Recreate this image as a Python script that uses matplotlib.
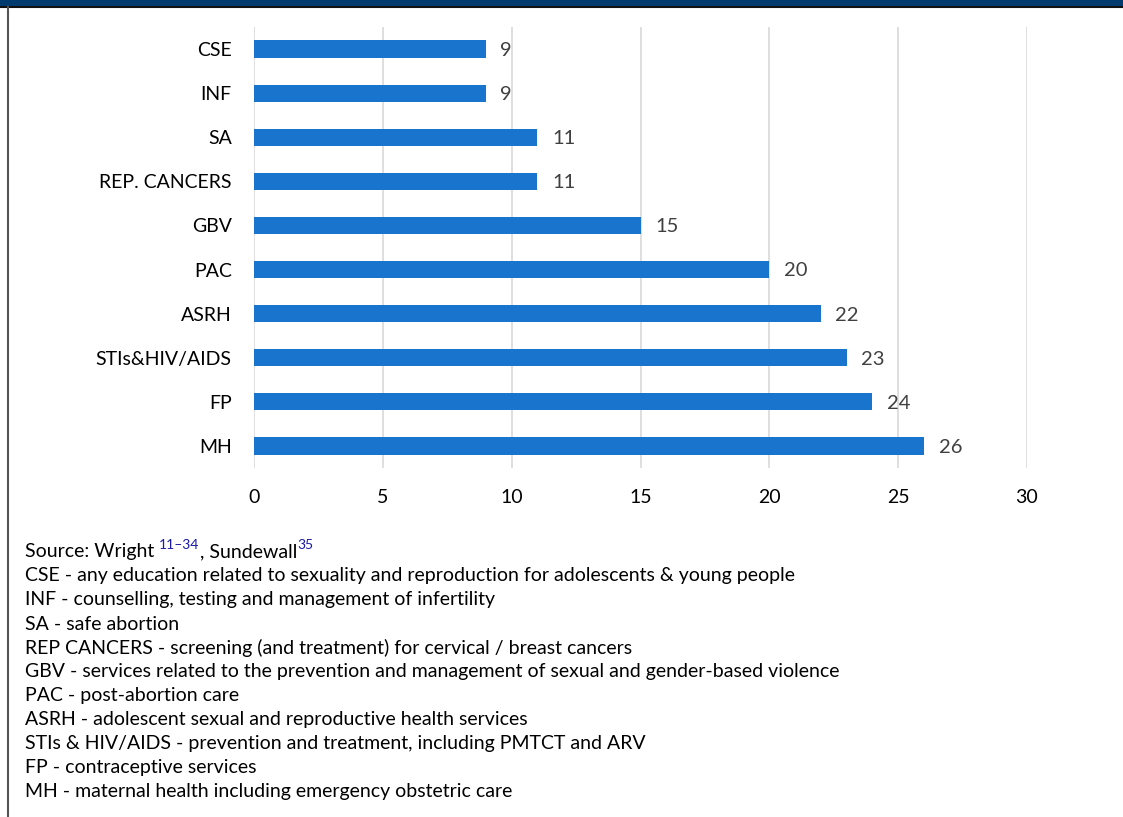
import matplotlib
matplotlib.use("Agg")
import matplotlib.pyplot as plt
from matplotlib.lines import Line2D
from matplotlib.patches import Rectangle

categories = ["CSE", "INF", "SA", "REP. CANCERS", "GBV", "PAC", "ASRH",
              "STIs&HIV/AIDS", "FP", "MH"]
values = [9, 9, 11, 11, 15, 20, 22, 23, 24, 26]
xticks = [0, 5, 10, 15, 20, 25, 30]

notes = [
    "CSE - any education related to sexuality and reproduction for adolescents & young people",
    "INF - counselling, testing and management of infertility",
    "SA - safe abortion",
    "REP CANCERS - screening (and treatment) for cervical / breast cancers",
    "GBV - services related to the prevention and management of sexual and gender-based violence",
    "PAC - post-abortion care",
    "ASRH - adolescent sexual and reproductive health services",
    "STIs & HIV/AIDS - prevention and treatment, including PMTCT and ARV",
    "FP - contraceptive services",
    "MH - maternal health including emergency obstetric care",
]

FONT = ["Lato", "DejaVu Sans"]
plt.rcParams['font.family'] = FONT

W, H = 1123, 817
fig = plt.figure(figsize=(W / 100, H / 100), dpi=100)

# axes: x 0 -> px 254, 30 -> px 1027 ; y top 27, bottom 468
ax = fig.add_axes([254 / W, 1 - 468 / H, (1027 - 254) / W, (468 - 27) / H])
ypos = list(range(len(categories)))
ax.barh(ypos, values, height=0.39, color="#1874CD", zorder=3)
ax.set_ylim(len(categories) - 0.5, -0.5)
ax.set_xlim(0, 30)
ax.set_xticks(xticks)
ax.set_yticks(ypos)
ax.set_yticklabels(categories, fontsize=14, color="#000000")
ax.set_xticklabels([str(t) for t in xticks], fontsize=14, color="#000000")
ax.tick_params(axis="both", length=0)
ax.tick_params(axis="y", pad=16)
ax.tick_params(axis="x", pad=15)
for s in ax.spines.values():
    s.set_visible(False)
ax.grid(axis="x", color="#D9D9D9", linewidth=1.2, zorder=0)
ax.set_axisbelow(True)
for y, v in zip(ypos, values):
    ax.annotate(str(v), (v, y), xytext=(10.5, -1), textcoords="offset points",
                ha="left", va="center", fontsize=14.5, color="#404040")

# top band and left border
fig.patches.append(Rectangle((0, 1 - 6 / H), 1, 6 / H, transform=fig.transFigure,
                             facecolor="#003A6E", edgecolor="none", zorder=5))
fig.add_artist(Line2D([0, 1], [1 - 7 / H, 1 - 7 / H], transform=fig.transFigure,
                      color="#111111", linewidth=1.5))
fig.add_artist(Line2D([7.5 / W, 7.5 / W], [0, 1 - 7 / H], transform=fig.transFigure,
                      color="#555555", linewidth=1.5))

# source line with superscripts
fs = 14
x0 = 25 / W
y0 = 1 - 552 / H
fig.canvas.draw()
r = fig.canvas.get_renderer()

def put(txt, x, y, size, color):
    t = fig.text(x, y, txt, fontsize=size, color=color, ha="left", va="center")
    bb = t.get_window_extent(renderer=r)
    return bb.x1 / W

x = put("Source: Wright ", x0, y0, fs, "#000000")
x = put("11\u201334", x, y0 + 7 / H, 10, "#1A1AA6")
x = put(", Sundewall", x, y0, fs, "#000000")
x = put("35", x, y0 + 7 / H, 10, "#1A1AA6")

for i, n in enumerate(notes):
    fig.text(x0, 1 - (576 + 24 * i) / H, n, fontsize=fs, color="#000000",
             ha="left", va="center")

fig.savefig("out.png", dpi=100)
